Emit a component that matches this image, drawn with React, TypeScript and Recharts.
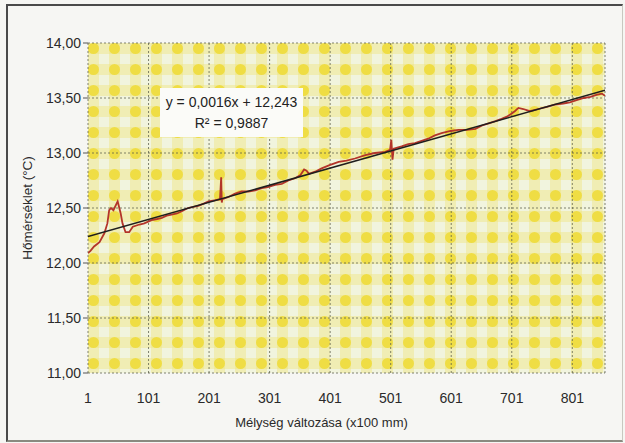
import React from 'react';
import {
  ComposedChart,
  Line,
  XAxis,
  YAxis,
  CartesianGrid,
} from 'recharts';

// depth index (x100 mm) and temperature readings
const depthIdx = [
  1, 5, 11, 20, 28, 33, 36, 39, 43, 50, 55, 58, 63, 69, 75, 86, 94, 106, 115, 123,
  131, 139, 148, 156, 166, 175, 183, 192, 200, 210, 219, 221, 222, 223, 233, 244, 255, 266, 277, 288,
  298, 310, 321, 332, 343, 352, 358, 362, 366, 376, 387, 400, 415, 428, 442, 459, 475, 492, 500, 502,
  504, 506, 519, 530, 541, 552, 563, 574, 585, 600, 613, 627, 641, 652, 663, 674, 684, 693, 701, 706,
  712, 720, 731, 745, 759, 772, 786, 797, 808, 820, 831, 842, 850, 855,
];
const temperature = [
  12.09, 12.11, 12.15, 12.19, 12.27, 12.36, 12.48, 12.5, 12.48, 12.56, 12.45, 12.36, 12.28, 12.28, 12.33, 12.35, 12.36, 12.39, 12.4, 12.41,
  12.43, 12.44, 12.45, 12.47, 12.5, 12.51, 12.52, 12.54, 12.56, 12.57, 12.58, 12.78, 12.55, 12.58, 12.6, 12.63, 12.65, 12.65, 12.66, 12.68,
  12.69, 12.71, 12.72, 12.75, 12.77, 12.8, 12.85, 12.84, 12.81, 12.83, 12.86, 12.89, 12.92, 12.93, 12.95, 12.98, 13.0, 13.01, 13.03, 13.12,
  12.94, 13.04, 13.06, 13.08, 13.09, 13.11, 13.13, 13.16, 13.18, 13.2, 13.21, 13.21, 13.22, 13.25, 13.27, 13.29, 13.31, 13.33, 13.36, 13.38,
  13.41, 13.4, 13.38, 13.4, 13.42, 13.44, 13.45, 13.46, 13.48, 13.5, 13.51, 13.53, 13.54, 13.52,
];

// linear trendline end points as drawn
const trendX = [1, 855];
const trendY = [12.24, 13.57];

const xTicks = [1, 101, 201, 301, 401, 501, 601, 701, 801];
const yTicks = [11, 11.5, 12, 12.5, 13, 13.5, 14];

const equationText = 'y = 0,0016x + 12,243';
const r2Text = 'R² = 0,9887';

const measured = depthIdx.map((x, i) => ({ x, y: temperature[i] }));
const trend = trendX.map((x, i) => ({ x, y: trendY[i] }));

const font = '"Liberation Sans", Arial, sans-serif';
const fmtY = (v: number) => v.toFixed(2).replace('.', ',');

export default function App() {
  return (
    <div
      style={{
        position: 'absolute',
        left: 0,
        top: 0,
        width: 625,
        height: 443,
        background: '#f6f6f3',
        fontFamily: font,
        overflow: 'hidden',
      }}
    >
      {/* gingham background pattern, referenced by the grid fill */}
      <svg width={0} height={0} style={{ position: 'absolute' }}>
        <defs>
          <pattern id="gingham" x={88} y={43} width={21} height={21} patternUnits="userSpaceOnUse">
            <rect width={21} height={21} fill="#f1f4de" />
            <rect x={0} y={0} width={11} height={21} fill="#ede27a" opacity={0.42} />
            <rect x={0} y={0} width={21} height={11} fill="#ede27a" opacity={0.42} />
            <circle cx={5.5} cy={5.5} r={5.5} fill="#efd92e" opacity={0.8} />
          </pattern>
        </defs>
      </svg>

      <div
        style={{
          position: 'absolute',
          left: 6,
          top: 4,
          width: 614,
          height: 434,
          borderTop: '2px solid #4a4a4a',
          borderLeft: '2px solid #4a4a4a',
          borderBottom: '2px solid #8a8a80',
          borderRight: '1px solid #c8c8c0',
        }}
      />

      <div style={{ position: 'absolute', left: 0, top: 0 }}>
        <ComposedChart width={625} height={443} margin={{ top: 43, right: 20, left: 10, bottom: 0 }}>
          <CartesianGrid
            fill="url(#gingham)"
            fillOpacity={1}
            stroke="#5a5c48"
            strokeOpacity={0.75}
            strokeDasharray="2 2"
            strokeWidth={1}
          />
          <XAxis
            type="number"
            dataKey="x"
            domain={[1, 855]}
            ticks={xTicks}
            allowDataOverflow
            height={70}
            axisLine={false}
            tickLine={false}
            tickMargin={14}
            tick={{ fill: '#2a2a2a', fontSize: 14, fontFamily: font }}
            label={{
              value: 'Mélység változása (x100 mm)',
              position: 'insideBottom',
              offset: 16,
              dx: -25,
              fill: '#2a2a2a',
              fontSize: 13,
              fontFamily: font,
            }}
          />
          <YAxis
            type="number"
            domain={[11, 14]}
            ticks={yTicks}
            width={78}
            axisLine={false}
            tickSize={5}
            tickMargin={2}
            tickLine={{ stroke: '#555' }}
            tickFormatter={fmtY}
            tick={{ fill: '#2a2a2a', fontSize: 14, fontFamily: font }}
            label={{
              value: 'Hőmérséklet (°C)',
              angle: -90,
              position: 'insideLeft',
              offset: 17,
              style: { textAnchor: 'middle' },
              fill: '#2a2a2a',
              fontSize: 13.5,
              fontFamily: font,
            }}
          />
          <Line
            data={measured}
            dataKey="y"
            type="linear"
            stroke="#b3342a"
            strokeWidth={1.8}
            dot={false}
            isAnimationActive={false}
          />
          <Line
            data={trend}
            dataKey="y"
            type="linear"
            stroke="#1e1e1e"
            strokeWidth={1.5}
            dot={false}
            isAnimationActive={false}
          />
        </ComposedChart>
      </div>

      <div
        style={{
          position: 'absolute',
          left: 160,
          top: 88,
          width: 143,
          height: 49,
          background: '#fbfbf8',
          color: '#222',
          fontSize: 14,
          lineHeight: '21px',
          textAlign: 'center',
          paddingTop: 4,
          boxSizing: 'border-box',
        }}
      >
        <div>{equationText}</div>
        <div>{r2Text}</div>
      </div>
    </div>
  );
}
